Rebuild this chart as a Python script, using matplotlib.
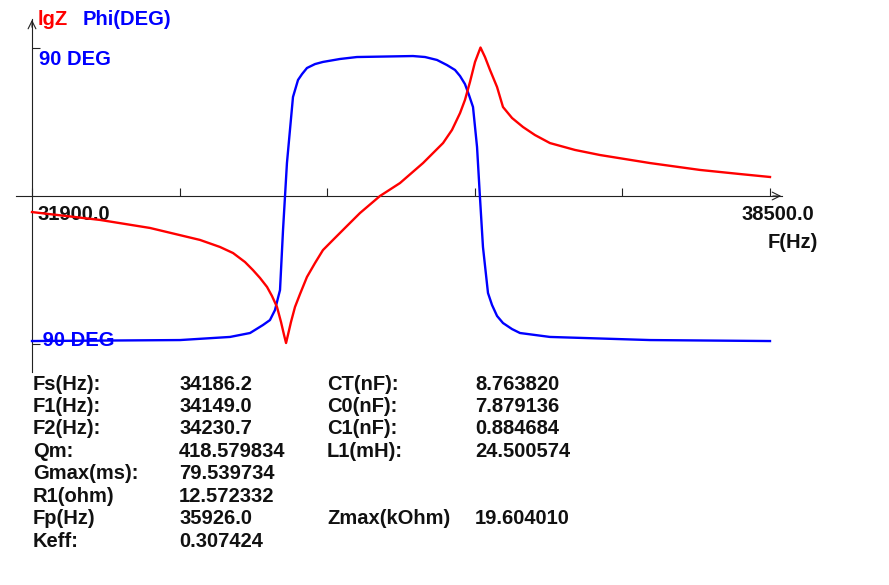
import matplotlib
matplotlib.use("Agg")
import matplotlib.pyplot as plt

# frequency sweep
freq_phi = [31900, 33224, 33671, 33850, 33966, 34028, 34073, 34100, 34118, 34145,
            34180, 34207, 34234, 34279, 34315, 34359, 34431, 34502, 34654, 34806,
            35307, 35415, 35522, 35611, 35683, 35728, 35772, 35808, 35844, 35880,
            35906, 35933, 35978, 36014, 36059, 36112, 36193, 36264, 36532, 37427,
            38500]
phi_deg = [-88.5, -87.9, -86.0, -83.6, -78.7, -75.7, -69.6, -62.2, -57.4, -20.7,
           20.1, 40.3, 60.4, 70.8, 74.4, 78.1, 80.5, 81.8, 83.6, 84.8,
           85.4, 84.8, 83.0, 79.9, 76.9, 73.2, 68.3, 61.6, 54.3, 29.9,
           -0.6, -31.1, -59.2, -66.5, -73.2, -77.5, -81.2, -83.6, -86.0, -87.9,
           -88.5]

freq_z = [31900, 32508, 32955, 33402, 33581, 33698, 33805, 33876, 33939, 34002,
          34046, 34091, 34127, 34154, 34172, 34189, 34216, 34252, 34297, 34359,
          34431, 34502, 34592, 34699, 34833, 35012, 35191, 35397, 35576, 35656,
          35728, 35772, 35817, 35862, 35911, 35951, 35996, 36059, 36112, 36193,
          36291, 36398, 36532, 36756, 36980, 37427, 37874, 38232, 38500]
# lgZ has no scale on the chart, kept in the same relative units as phase
lgz_rel = [-9.8, -14.6, -19.5, -26.8, -31.1, -34.8, -40.3, -45.2, -50.0, -55.5,
           -61.0, -67.7, -76.9, -84.8, -89.7, -84.8, -76.9, -67.7, -59.8, -49.4,
           -40.9, -33.0, -26.8, -19.5, -10.4, 0.0, 7.9, 20.1, 32.3, 40.3,
           50.6, 58.6, 69.6, 81.8, 90.6, 84.8, 76.9, 66.5, 54.3, 47.6,
           42.1, 37.2, 32.3, 28.1, 25.0, 20.1, 15.9, 13.4, 11.6]

f_start = 31900.0
f_stop = 38500.0
n_div = 5

col1_labels = ["Fs(Hz):", "F1(Hz):", "F2(Hz):", "Qm:", "Gmax(ms):", "R1(ohm)", "Fp(Hz)", "Keff:"]
col1_values = ["34186.2", "34149.0", "34230.7", "418.579834", "79.539734", "12.572332", "35926.0", "0.307424"]
col2_labels = ["CT(nF):", "C0(nF):", "C1(nF):", "L1(mH):", "", "", "Zmax(kOhm)", ""]
col2_values = ["8.763820", "7.879136", "0.884684", "24.500574", "", "", "19.604010", ""]

W, H = 889, 585
X0, X1 = 32, 770      # pixel of f_start / f_stop
Y0 = 196              # pixel of zero line
PX90 = 147.5          # pixels for 90 deg

RED = "#ff0000"
BLUE = "#0000ff"
FONT = ["Liberation Sans", "DejaVu Sans"]


def fx(px):
    return f_start + (px - X0) * (f_stop - f_start) / (X1 - X0)


def fy(py):
    return (Y0 - py) * 90.0 / PX90


def main():
    fig = plt.figure(figsize=(W / 100, H / 100), dpi=100)
    fig.patch.set_facecolor("white")
    ax = fig.add_axes([0, 0, 1, 1])
    ax.set_xlim(fx(0), fx(W))
    ax.set_ylim(fy(H), fy(0))

    # axes crossing at (f_start, 0)
    for s in ["top", "right"]:
        ax.spines[s].set_visible(False)
    ax.spines["left"].set_position(("data", f_start))
    ax.spines["left"].set_bounds(fy(372), fy(19))
    ax.spines["bottom"].set_position(("data", 0))
    ax.spines["bottom"].set_bounds(fx(16), fx(782))
    for s in ["left", "bottom"]:
        ax.spines[s].set_linewidth(0.8)
        ax.spines[s].set_color("#222222")

    step = (f_stop - f_start) / n_div
    ax.set_xticks([f_start + i * step for i in range(n_div + 1)])
    ax.set_yticks([-90, 90])
    ax.tick_params(axis="both", direction="in", length=6, width=0.8,
                   color="#222222", labelbottom=False, labelleft=False)

    arrow = dict(arrowstyle="->", lw=0.8, color="#222222", mutation_scale=14)
    ax.annotate("", xy=(f_start, fy(17)), xytext=(f_start, fy(30)), arrowprops=arrow)
    ax.annotate("", xy=(fx(784), 0), xytext=(fx(770), 0), arrowprops=arrow)

    # axis texts (drawn under the curves like the original)
    txt = dict(family=FONT, weight="bold", fontsize=14.5, zorder=1)
    ax.text(fx(38), fy(20), "lgZ", color=RED, ha="left", va="center", **txt)
    ax.text(fx(83), fy(20), "Phi(DEG)", color=BLUE, ha="left", va="center", **txt)
    ax.text(fx(39), fy(60), "90 DEG", color=BLUE, ha="left", va="center", **txt)
    ax.text(fx(36), fy(341), "-90 DEG", color=BLUE, ha="left", va="center", **txt)
    ax.text(fx(38), fy(215), "%.1f" % f_start, color="#111111", ha="left", va="center", **txt)
    ax.text(fx(814), fy(215), "%.1f" % f_stop, color="#111111", ha="right", va="center", **txt)
    ax.text(fx(818), fy(243), "F(Hz)", color="#111111", ha="right", va="center", **txt)

    ax.plot(freq_phi, phi_deg, color=BLUE, lw=1.7, zorder=3, solid_joinstyle="round")
    ax.plot(freq_z, lgz_rel, color=RED, lw=1.7, zorder=4, solid_joinstyle="round")

    # parameter table
    tab = dict(family=FONT, weight="bold", fontsize=14.5, color="#111111",
               ha="left", va="center")
    for i in range(len(col1_labels)):
        y = fy(384 + i * 22.5)
        ax.text(fx(33), y, col1_labels[i], **tab)
        ax.text(fx(179), y, col1_values[i], **tab)
        ax.text(fx(327), y, col2_labels[i], **tab)
        ax.text(fx(475), y, col2_values[i], **tab)

    fig.savefig("out.png", dpi=100, facecolor="white")


if __name__ == "__main__":
    main()
